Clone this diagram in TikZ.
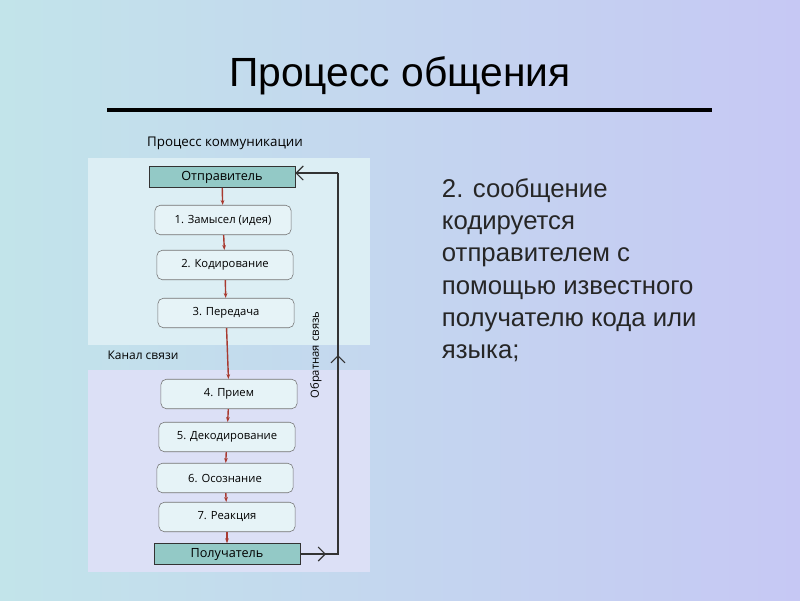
\documentclass[tikz,border=0pt]{standalone}
\usepackage{fontspec}
\setmainfont{Liberation Sans}
\newfontfamily\diagfont{Open Sans}
\usetikzlibrary{positioning,arrows.meta}
\definecolor{bgleft}{HTML}{C2E4EA}
\definecolor{bgright}{HTML}{C6C8F4}
\definecolor{panelup}{HTML}{DCEEF4}
\definecolor{paneldown}{HTML}{DCE0F6}
\definecolor{actorfill}{HTML}{93C9C6}
\definecolor{stepred}{HTML}{A83A30}
\tikzset{
  actor/.style={draw=black!80, fill=actorfill, minimum width=104pt, minimum height=15pt, inner sep=0pt, font=\diagfont\fontsize{9}{10}\selectfont},
  stage/.style={draw=black!55, rounded corners=4pt, fill=white!30!panelup, minimum width=97pt, minimum height=21pt, inner sep=0pt, font=\diagfont\fontsize{8}{9}\selectfont},
  flow/.style={->, >={Stealth[length=3.5pt]}, stepred, line width=1pt},
  back/.style={->, >={Straight Barb[length=5pt]}, black!80, thick},
  bodytext/.style={align=left, anchor=north west, font=\fontsize{18.3}{22.8}\selectfont, text=black!85}
}
\begin{document}
\begin{tikzpicture}[x=0.025cm, y=-0.025cm]
\shade[left color=bgleft, right color=bgright] (0,0) rectangle (800,600);
\useasboundingbox (0,0) rectangle (800,600);
% title
\node (title) at (400,76) {\fontsize{29}{32}\selectfont Процесс общения};
\draw[line width=3.5pt] (107,110) -- (712,110);
% panels
\fill[panelup] (88,158) rectangle (370,345);
\fill[paneldown] (88,370) rectangle (370,572);
\node (head) at (225,143) {\diagfont\fontsize{9.5}{10}\selectfont Процесс коммуникации};
\node (chan) at (143,355) {\diagfont\fontsize{8.5}{9}\selectfont Канал связи};
% boxes
\node[actor] (snd) at (222,177) {Отправитель};
\node[stage] (s1) at (223,220) {1. Замысел (идея)};
\node[stage] (s2) at (225,265) {2. Кодирование};
\node[stage] (s3) at (226,313) {3. Передача};
\node[stage] (s4) at (229,394) {4. Прием};
\node[stage] (s5) at (227,437) {5. Декодирование};
\node[stage] (s6) at (225,478) {6. Осознание};
\node[stage] (s7) at (227,517) {7. Реакция};
\node[actor] (rcv) at (227,554) {Получатель};
\foreach \a/\b in {snd/s1, s1/s2, s2/s3, s3/s4, s4/s5, s5/s6, s6/s7, s7/rcv}
  \draw[flow] (\a) -- (\b);
% feedback
\coordinate (fb1) at (338,554);
\coordinate (fb2) at (338,173);
\draw[back] (rcv.east |- fb1) -- (fb1) -- (338,355);
\draw[black!80, thick] (338,356) -- (fb2);
\draw[back] (fb2) -- (snd.east |- fb2);
\draw[back] (300,554) -- (326,554);
\node[rotate=90, font=\diagfont\fontsize{8}{9}\selectfont] (fbl) at (316,355) {Обратная связь};
% text
\node[bodytext] (txt) at (437,174) {2. сообщение\\кодируется\\отправителем с\\помощью известного\\получателю кода или\\языка;};
\end{tikzpicture}
\end{document}
